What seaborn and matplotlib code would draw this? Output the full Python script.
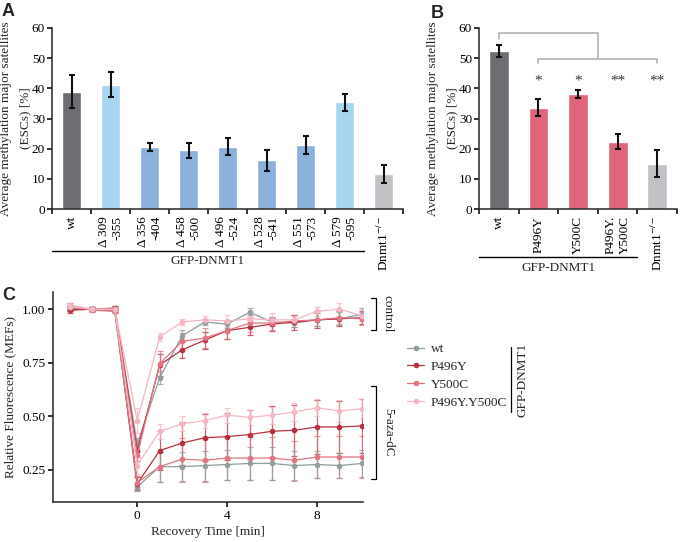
import matplotlib
matplotlib.use('Agg')
import matplotlib.pyplot as plt
from matplotlib.lines import Line2D
from matplotlib.transforms import blended_transform_factory
import pandas as pd
import seaborn as sns

# ---- panel A data ----
a_labels = ['wt', 'Δ 309\n-355', 'Δ 356\n-404', 'Δ 458\n-500', 'Δ 496\n-524',
            'Δ 528\n-541', 'Δ 551\n-573', 'Δ 579\n-595', 'Dnmt1$^{-/-}$']
a_values = [38.9, 41.2, 20.6, 19.4, 20.7, 16.2, 21.3, 35.4, 11.5]
a_errors = [5.4, 4.2, 1.4, 2.5, 2.9, 3.5, 3.0, 2.8, 3.0]
a_colors = ['#6d6e71', '#a8d5f0', '#8bb0da', '#8bb0da', '#8bb0da',
            '#8bb0da', '#8bb0da', '#a8d5f0', '#c1c2c5']

# ---- panel B data ----
b_labels = ['wt', 'P496Y', 'Y500C', 'P496Y.\nY500C', 'Dnmt1$^{-/-}$']
b_values = [52.4, 33.6, 38.1, 22.3, 15.0]
b_errors = [2.0, 2.8, 1.3, 2.4, 4.5]
b_colors = ['#6d6e71', '#e0647a', '#e0647a', '#e0647a', '#c1c2c5']
b_stars = ['', '*', '*', '**', '**']

# ---- panel C data ----
time = [-3, -2, -1, 0, 1, 2, 3, 4, 5, 6, 7, 8, 9, 10]
genotypes = ['wt', 'P496Y', 'Y500C', 'P496Y.Y500C']
c_colors = {'wt': '#909e9c', 'P496Y': '#b8303d', 'Y500C': '#e27482', 'P496Y.Y500C': '#f5b6c3'}

ctrl_wt = [1.00, 1.00, 1.00, 0.37, 0.68, 0.875, 0.94, 0.93, 0.985, 0.94, 0.935, 0.95, 0.955, 0.975]
ctrl_p496y = [0.995, 1.00, 1.005, 0.34, 0.74, 0.81, 0.855, 0.90, 0.915, 0.93, 0.94, 0.95, 0.955, 0.96]
ctrl_y500c = [1.015, 0.995, 0.99, 0.32, 0.745, 0.85, 0.865, 0.90, 0.935, 0.935, 0.945, 0.95, 0.96, 0.955]
ctrl_dm = [1.01, 1.00, 1.00, 0.48, 0.87, 0.94, 0.95, 0.945, 0.955, 0.95, 0.95, 0.99, 1.00, 0.97]

aza_wt = [1.00, 1.00, 0.995, 0.17, 0.265, 0.265, 0.27, 0.275, 0.28, 0.28, 0.27, 0.275, 0.27, 0.28]
aza_p496y = [1.00, 1.00, 1.00, 0.185, 0.34, 0.375, 0.40, 0.405, 0.415, 0.43, 0.435, 0.45, 0.45, 0.455]
aza_y500c = [1.01, 1.00, 0.99, 0.19, 0.265, 0.30, 0.295, 0.305, 0.305, 0.305, 0.295, 0.31, 0.31, 0.31]
aza_dm = [1.02, 1.00, 1.00, 0.27, 0.43, 0.465, 0.48, 0.505, 0.495, 0.505, 0.52, 0.54, 0.525, 0.535]

ctrl_wt_err = [0.01, 0.01, 0.015, 0.03, 0.03, 0.03, 0.015, 0.02, 0.02, 0.02, 0.02, 0.03, 0.03, 0.03]
ctrl_p496y_err = [0.015, 0.01, 0.01, 0.03, 0.05, 0.04, 0.04, 0.04, 0.035, 0.03, 0.035, 0.04, 0.035, 0.03]
ctrl_y500c_err = [0.015, 0.01, 0.01, 0.03, 0.06, 0.04, 0.045, 0.04, 0.04, 0.03, 0.03, 0.03, 0.03, 0.03]
ctrl_dm_err = [0.01, 0.01, 0.01, 0.06, 0.02, 0.015, 0.02, 0.03, 0.02, 0.03, 0.02, 0.02, 0.03, 0.025]

aza_wt_err = [0.01, 0.01, 0.01, 0.02, 0.07, 0.07, 0.07, 0.07, 0.075, 0.075, 0.07, 0.065, 0.06, 0.065]
aza_p496y_err = [0.01, 0.01, 0.01, 0.03, 0.09, 0.10, 0.11, 0.11, 0.115, 0.12, 0.12, 0.125, 0.12, 0.125]
aza_y500c_err = [0.01, 0.01, 0.01, 0.03, 0.07, 0.10, 0.10, 0.10, 0.10, 0.10, 0.09, 0.10, 0.10, 0.10]
aza_dm_err = [0.01, 0.01, 0.01, 0.04, 0.035, 0.035, 0.035, 0.035, 0.035, 0.04, 0.04, 0.04, 0.05, 0.045]

sns.set_theme(style='ticks')
plt.rcParams['font.family'] = ['Liberation Serif', 'DejaVu Serif']
plt.rcParams['mathtext.fontset'] = 'stix'
plt.rcParams['axes.linewidth'] = 1.1
plt.rcParams['xtick.color'] = 'black'
plt.rcParams['ytick.color'] = 'black'

W, H = 680, 542
fig = plt.figure(figsize=(W / 100, H / 100), dpi=100)


def px_axes(l, t, r, b):
    return fig.add_axes([l / W, 1 - b / H, (r - l) / W, (b - t) / H])


def bar_panel(ax, labels, values, errors, colors):
    n = len(labels)
    sns.barplot(x=labels, y=values, hue=labels, palette=colors, legend=False,
                width=0.5, saturation=1, ax=ax)
    ax.errorbar(range(n), values, yerr=errors, fmt='none', ecolor='#111111',
                elinewidth=1.5, capsize=2.5, capthick=1.5)
    ax.set_xlim(-0.5, n - 0.5)
    ax.set_ylim(0, 60)
    ax.set_yticks(range(0, 61, 10))
    ax.set_xticks(range(n))
    ax.set_xticklabels(labels, rotation=90, multialignment='right', fontsize=9.5)
    ax.set_xticks([i - 0.5 for i in range(n + 1)], minor=True)
    ax.tick_params(axis='x', which='major', length=0, pad=5)
    ax.tick_params(axis='x', which='minor', length=3.5, width=1.1)
    ax.tick_params(axis='y', length=3.5, width=1.1, pad=1.5, labelsize=9.5)
    ax.set_ylabel('Average methylation major satellites\n(ESCs) [%]', fontsize=9.5,
                  labelpad=0.5, linespacing=1.75)
    ax.set_xlabel('')
    sns.despine(ax=ax)


# ---- A ----
axA = px_axes(52, 28, 403, 209)
bar_panel(axA, a_labels, a_values, a_errors, a_colors)
trA = blended_transform_factory(axA.transData, axA.transAxes)
axA.plot([-0.5, 7.5], [-0.232, -0.232], color='black', lw=1, transform=trA, clip_on=False)
axA.text(3.5, -0.29, 'GFP-DNMT1', transform=trA, ha='center', va='center', fontsize=9.5)

# ---- B ----
axB = px_axes(479, 28, 677, 209)
bar_panel(axB, b_labels, b_values, b_errors, b_colors)
for i, s in enumerate(b_stars):
    if s:
        axB.text(i, 42.5, s, ha='center', va='center', fontsize=11, color='#333333')
gc = '#b3b3b3'
axB.plot([0, 0, 2.5, 2.5], [56.4, 58.4, 58.4, 49.7], color=gc, lw=1.2, clip_on=False)
axB.plot([1, 1, 4, 4], [48.4, 49.7, 49.7, 48.4], color=gc, lw=1.2, clip_on=False)
trB = blended_transform_factory(axB.transData, axB.transAxes)
axB.plot([-0.5, 3.5], [-0.265, -0.265], color='black', lw=1, transform=trB, clip_on=False)
axB.text(1.5, -0.326, 'GFP-DNMT1', transform=trB, ha='center', va='center', fontsize=9.5)

# ---- C ----
ctrl = {'wt': ctrl_wt, 'P496Y': ctrl_p496y, 'Y500C': ctrl_y500c, 'P496Y.Y500C': ctrl_dm}
aza = {'wt': aza_wt, 'P496Y': aza_p496y, 'Y500C': aza_y500c, 'P496Y.Y500C': aza_dm}
ctrl_err = {'wt': ctrl_wt_err, 'P496Y': ctrl_p496y_err, 'Y500C': ctrl_y500c_err, 'P496Y.Y500C': ctrl_dm_err}
aza_err = {'wt': aza_wt_err, 'P496Y': aza_p496y_err, 'Y500C': aza_y500c_err, 'P496Y.Y500C': aza_dm_err}

rows = []
for cond, vals, errs in [('control', ctrl, ctrl_err), ('5-aza-dC', aza, aza_err)]:
    for g in genotypes:
        for t, v, e in zip(time, vals[g], errs[g]):
            rows.append({'time': t, 'value': v, 'err': e, 'genotype': g, 'condition': cond})
df = pd.DataFrame(rows)

axC = px_axes(53, 292, 363, 502)
for (g, cond), sub in df.groupby(['genotype', 'condition']):
    axC.errorbar(sub['time'], sub['value'], yerr=sub['err'], fmt='none',
                 ecolor=c_colors[g], elinewidth=0.9, capsize=2, capthick=0.9, alpha=0.75)
sns.lineplot(data=df, x='time', y='value', hue='genotype', hue_order=genotypes,
             units='condition', estimator=None, palette=c_colors, marker='o',
             markersize=4, markeredgewidth=0, linewidth=0.9, ax=axC)
axC.set_xlim(-3.75, 10.05)
axC.set_ylim(0.1, 1.08)
axC.set_xticks([0, 4, 8])
axC.set_yticks([0.25, 0.50, 0.75, 1.00])
axC.set_yticklabels(['0.25', '0.50', '0.75', '1.00'])
axC.tick_params(length=3.5, width=1.1, labelsize=9.5, pad=2)
axC.set_xlabel('Recovery Time [min]', fontsize=9.5, labelpad=3)
axC.set_ylabel('Relative Fluorescence (MEFs)', fontsize=9.5, labelpad=4)
sns.despine(ax=axC)

handles, labels = axC.get_legend_handles_labels()
axC.legend(handles, labels, loc='upper left', bbox_to_anchor=(407 / W, 1 - 343 / H),
           bbox_transform=fig.transFigure, frameon=False, fontsize=9.5,
           handlelength=1.3, handletextpad=0.5, labelspacing=0.42, borderpad=0,
           borderaxespad=0)
fig.add_artist(Line2D([511 / W, 511 / W], [1 - 347 / H, 1 - 412 / H], color='black', lw=0.9))
fig.text(523 / W, 1 - 380 / H, 'GFP-DNMT1', rotation=90, ha='center', va='center', fontsize=9.5)

# brackets on the right of C
trC = blended_transform_factory(axC.transAxes, axC.transData)
for (y0, y1), name in [((1.053, 0.903), 'control'), ((0.64, 0.208), '5-aza-dC')]:
    axC.plot([1.026, 1.042, 1.042, 1.026], [y0, y0, y1, y1], color='black', lw=0.9,
             transform=trC, clip_on=False)
    axC.text(1.08, (y0 + y1) / 2, name, rotation=-90, ha='center', va='center',
             fontsize=9.5, transform=trC)

# panel letters
for x, y, s in [(2, 11, 'A'), (431, 13, 'B'), (2, 296, 'C')]:
    fig.text(x / W, 1 - y / H, s, fontsize=13, fontweight='bold', va='center',
             family='Liberation Sans')

fig.savefig('out.png', dpi=100)
